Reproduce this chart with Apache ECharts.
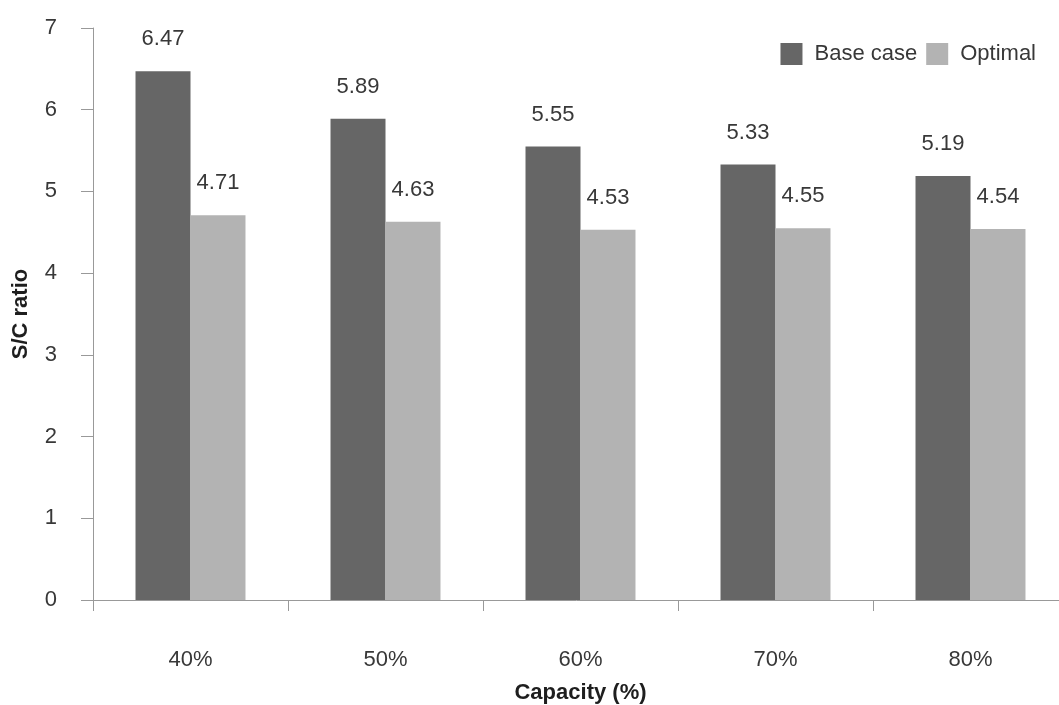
<!DOCTYPE html>
<html>
<head>
<meta charset="utf-8">
<script src="https://cdn.jsdelivr.net/npm/echarts@6/dist/echarts.min.js"></script>
<style>
  html, body { margin: 0; padding: 0; background: #ffffff; }
  #chart { width: 1059px; height: 705px; }
</style>
</head>
<body>
<div id="chart"></div>
<script>
// S/C ratio at each capacity level, base case vs optimal
const categories = ['40%', '50%', '60%', '70%', '80%'];
const baseCase = [6.47, 5.89, 5.55, 5.33, 5.19];
const optimal = [4.71, 4.63, 4.53, 4.55, 4.54];
const yTicks = { min: 0, max: 7, interval: 1 };

const FONT = '"Liberation Sans", Arial, sans-serif';
const TEXT = '#383838';
const AXIS = '#999999';

const labelStyle = {
  show: true,
  position: 'top',
  distance: 21,
  fontFamily: FONT,
  fontSize: 22,
  color: TEXT,
  formatter: p => p.value.toFixed(2)
};

const chart = echarts.init(document.getElementById('chart'), null, { renderer: 'canvas' });
chart.setOption({
  animation: false,
  backgroundColor: '#ffffff',
  textStyle: { fontFamily: FONT },
  // the last category runs slightly past the right edge of the page
  grid: {
    left: 93, width: 975, top: 28, bottom: 105,
    containLabel: false,
    outerBoundsMode: 'none'
  },
  legend: {
    top: 43,
    right: 23,
    padding: 0,
    itemWidth: 22,
    itemHeight: 22,
    itemGap: 9,
    icon: 'rect',
    textStyle: { fontFamily: FONT, fontSize: 22, color: TEXT, padding: [0, 0, 0, 7] },
    data: ['Base case', 'Optimal']
  },
  xAxis: {
    type: 'category',
    data: categories,
    name: 'Capacity (%)',
    nameLocation: 'middle',
    nameGap: 82,
    nameTextStyle: { fontFamily: FONT, fontSize: 22, fontWeight: 'bold', color: '#1e1e1e' },
    axisLine: { lineStyle: { color: AXIS, width: 1 } },
    axisTick: { show: true, length: 11, lineStyle: { color: AXIS } },
    axisLabel: { margin: 49, fontFamily: FONT, fontSize: 22, color: TEXT }
  },
  yAxis: {
    type: 'value',
    min: yTicks.min,
    max: yTicks.max,
    interval: yTicks.interval,
    name: 'S/C ratio',
    nameLocation: 'middle',
    nameGap: 61,
    nameRotate: 90,
    nameTextStyle: { fontFamily: FONT, fontSize: 22, fontWeight: 'bold', color: '#1e1e1e' },
    axisLine: { show: true, lineStyle: { color: AXIS, width: 1 } },
    axisTick: { show: true, length: 12, lineStyle: { color: AXIS } },
    splitLine: { show: false },
    axisLabel: { margin: 36, fontFamily: FONT, fontSize: 22, color: TEXT, padding: [0, 0, 4, 0] }
  },
  series: [
    {
      name: 'Base case',
      type: 'bar',
      data: baseCase,
      barGap: '0%',
      barCategoryGap: '43.6%',
      itemStyle: { color: '#666666' },
      label: labelStyle
    },
    {
      name: 'Optimal',
      type: 'bar',
      data: optimal,
      barGap: '0%',
      barCategoryGap: '43.6%',
      itemStyle: { color: '#b3b3b3' },
      label: labelStyle
    }
  ]
});
</script>
</body>
</html>
